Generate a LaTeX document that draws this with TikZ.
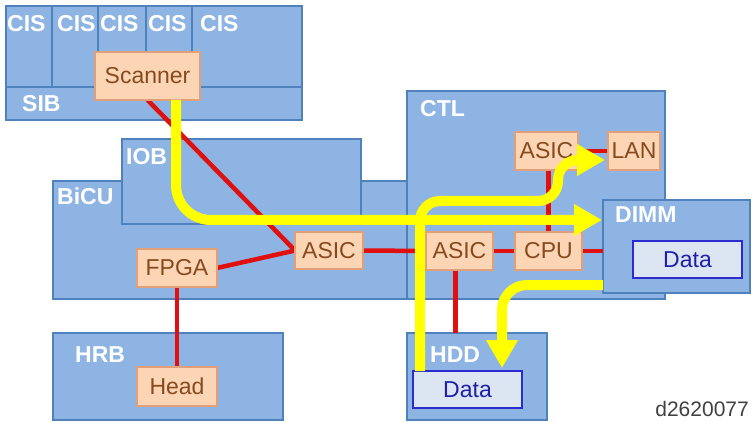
\documentclass[tikz,border=0pt]{standalone}
\usepackage{fontspec}
\setmainfont{Liberation Sans}
\usetikzlibrary{arrows.meta,calc}
\pgfdeclarelayer{boxes}
\pgfdeclarelayer{wires}
\pgfsetlayers{boxes,wires,main}
\definecolor{boxfill}{HTML}{8EB4E3}
\definecolor{boxdraw}{HTML}{4F81BD}
\definecolor{partfill}{HTML}{FCD5B5}
\definecolor{partdraw}{HTML}{E2A07A}
\definecolor{parttext}{HTML}{874A1E}
\definecolor{datafill}{HTML}{DCE6F2}
\definecolor{datadraw}{HTML}{2B2BCF}
\definecolor{datatext}{HTML}{1F1FA8}
\definecolor{wire}{HTML}{E01010}
\definecolor{flow}{HTML}{FFFF00}
\definecolor{idtext}{HTML}{404040}
\tikzset{
  bigbox/.style={draw=boxdraw, fill=boxfill, line width=1.2pt, anchor=north west, inner sep=0pt, outer sep=0pt},
  boxlabel/.style={anchor=base west, inner sep=0pt, text=white, font=\fontsize{23}{27}\selectfont\bfseries},
  part/.style={draw=partdraw, fill=partfill, line width=1.2pt, text=parttext, font=\fontsize{23}{27}\selectfont, inner sep=0pt, outer sep=0pt},
  datanode/.style={draw=datadraw, fill=datafill, line width=1.5pt, text=datatext, font=\fontsize{23}{27}\selectfont, inner sep=0pt, outer sep=0pt},
  wireline/.style={draw=wire, line width=4.5pt},
  flowarrow/.style={draw=flow, line width=10pt, -{Triangle[length=28pt,width=30pt]}},
  idlabel/.style={anchor=base east, inner sep=0pt, text=idtext, font=\fontsize{21}{25}\selectfont}
}
\begin{document}
\begin{tikzpicture}[x=1pt,y=-1pt]
\useasboundingbox (0,0) rectangle (755,422);
% ---------- big boxes ----------
\begin{pgfonlayer}{boxes}
\node[bigbox, minimum width=46pt, minimum height=81pt] (cis1) at (6,6) {};
\node[bigbox, minimum width=46pt, minimum height=81pt] (cis2) at (52,6) {};
\node[bigbox, minimum width=48pt, minimum height=81pt] (cis3) at (98,6) {};
\node[bigbox, minimum width=46pt, minimum height=81pt] (cis4) at (146,6) {};
\node[bigbox, minimum width=110pt, minimum height=81pt] (cis5) at (192,6) {};
\node[bigbox, minimum width=296pt, minimum height=33pt] (sib) at (6,87) {};
\node[bigbox, minimum width=355pt, minimum height=118pt] (bicu) at (53,181) {};
\node[bigbox, minimum width=239pt, minimum height=85pt] (iob) at (122,139) {};
\node[bigbox, minimum width=258pt, minimum height=208pt] (ctl) at (407,91) {};
\node[bigbox, minimum width=147pt, minimum height=93pt] (dimm) at (603,200) {};
\node[bigbox, minimum width=230pt, minimum height=87pt] (hrb) at (53,333) {};
\node[bigbox, minimum width=140pt, minimum height=87pt] (hdd) at (407,333) {};
\end{pgfonlayer}
% ---------- labels ----------
\node[boxlabel] (lcis1) at (7,32) {CIS};
\node[boxlabel] (lcis2) at (57,32) {CIS};
\node[boxlabel] (lcis3) at (100,32) {CIS};
\node[boxlabel] (lcis4) at (148,32) {CIS};
\node[boxlabel] (lcis5) at (200,32) {CIS};
\node[boxlabel] (lsib) at (22,112) {SIB};
\node[boxlabel] (liob) at (126,165) {IOB};
\node[boxlabel] (lbicu) at (57,205) {BiCU};
\node[boxlabel] (lctl) at (420,117) {CTL};
\node[boxlabel] (ldimm) at (615,223) {DIMM};
\node[boxlabel] (lhrb) at (75,362) {HRB};
\node[boxlabel] (lhdd) at (430,362) {HDD};
% ---------- parts ----------
\node[part, minimum width=105pt, minimum height=48pt] (scanner) at (147.5,76) {Scanner};
\node[part, minimum width=68pt, minimum height=37pt] (asic1) at (329,250.5) {ASIC};
\node[part, minimum width=80pt, minimum height=38pt] (fpga) at (177,268) {FPGA};
\node[part, minimum width=63pt, minimum height=38pt] (asic3) at (546.5,151) {ASIC};
\node[part, minimum width=52pt, minimum height=38pt] (lan) at (634,151) {LAN};
\node[part, minimum width=67pt, minimum height=38pt] (asic2) at (459.5,251) {ASIC};
\node[part, minimum width=67pt, minimum height=38pt] (cpu) at (548.5,251) {CPU};
\node[part, minimum width=80pt, minimum height=39pt] (head) at (177,386.5) {Head};
\node[datanode, minimum width=109pt, minimum height=37pt] (dimmdata) at (687.5,259.5) {Data};
\node[datanode, minimum width=109pt, minimum height=37pt] (hdddata) at (467.5,389.5) {Data};
\node[idlabel] (id) at (749,416) {d2620077};
% ---------- wires ----------
\begin{pgfonlayer}{wires}
\draw[wireline] (scanner.south) -- (asic1.west);
\draw[wireline] (fpga.east) -- (asic1.west);
\draw[wireline] (fpga.south) -- (head.north);
\draw[wireline] (asic1.east) -- (asic2.west);
\draw[wireline] (asic2.east) -- (cpu.west);
\draw[wireline] (cpu.east) -- (cpu.east -| dimm.west);
\draw[wireline] (asic3.east) -- (lan.west);
\draw[wireline] (asic3.south -| cpu.north) -- (cpu.north);
\coordinate (hddtap) at ($(asic2.south)+(-4,0)$);
\draw[wireline] (hddtap) -- (hddtap |- hdd.north);
\end{pgfonlayer}
% ---------- data flows ----------
\coordinate (lanbend) at (558,201);
\draw[flowarrow, rounded corners=35pt] ($(scanner.south)+(28.5,0)$) |- ($(dimm.north west)+(-1,20)$);
\draw[flowarrow, rounded corners=20pt] ($(hdddata.north west)+(7,0)$) |- (lanbend) |- ($(lan.south west)+(-3,-10)$);
\draw[flowarrow, rounded corners=25pt] ($(dimm.south west)+(0,-8)$) -| ($(hdddata.north east)+(-20,-3)$);
\end{tikzpicture}
\end{document}
